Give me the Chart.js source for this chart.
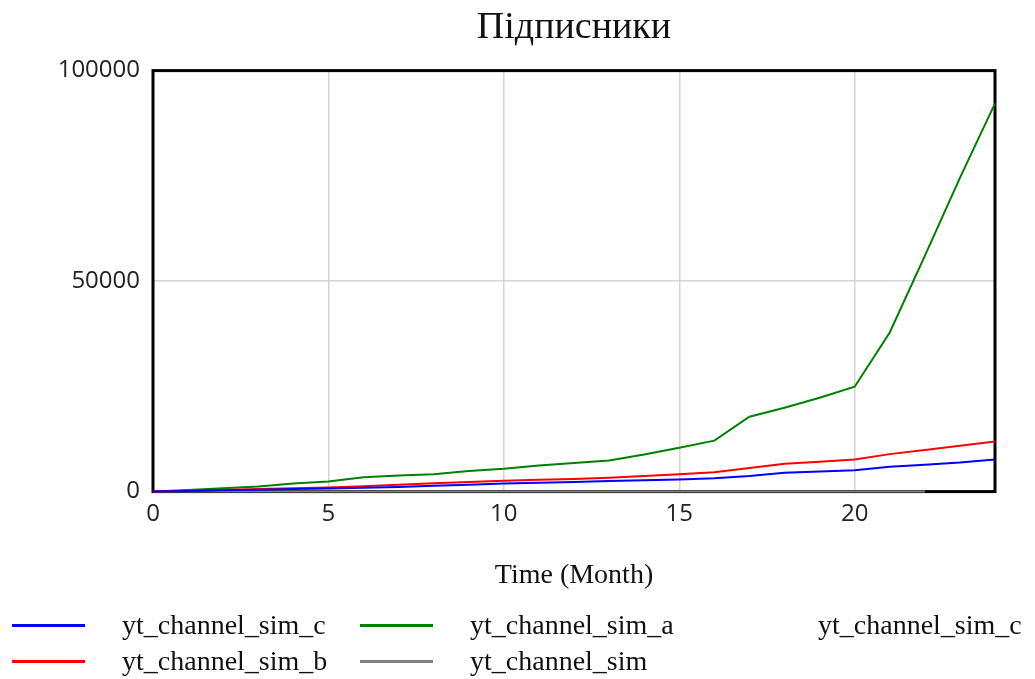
<!DOCTYPE html>
<html>
<head>
<meta charset="utf-8">
<script src="https://cdn.jsdelivr.net/npm/chart.js@4/dist/chart.umd.min.js"></script>
<style>
  body { margin: 0; background: #fff; }
  #wrap { position: relative; width: 1035px; height: 679px; }
  #legend { position: absolute; left: 0; top: 0; width: 1035px; height: 679px; pointer-events: none; }
  .item { position: absolute; height: 36px; display: flex; align-items: center; }
  .swatch { width: 73px; height: 3px; }
  .label { position: absolute; left: 110px; font: 28px "Liberation Serif", serif; color: #111; white-space: nowrap; }
</style>
</head>
<body>
<div id="wrap">
  <canvas id="chart" width="1035" height="679"></canvas>
  <div id="legend"></div>
</div>
<script>
const months = [0, 1, 2, 3, 4, 5, 6, 7, 8, 9, 10, 11, 12, 13, 14, 15, 16, 17, 18, 19, 20, 21, 22, 23, 24]

const simC = [0, 150, 300, 450, 600, 750, 900, 1100, 1400, 1600, 1900, 2100, 2300, 2500, 2700, 2900, 3200, 3700, 4500, 4800, 5100, 5900, 6400, 6900, 7600]
const simB = [0, 200, 400, 600, 800, 1000, 1300, 1600, 2000, 2300, 2600, 2800, 3000, 3300, 3700, 4100, 4600, 5600, 6600, 7100, 7600, 8900, 9900, 10900, 11900]
const simA = [0, 400, 800, 1200, 1900, 2400, 3400, 3800, 4100, 4900, 5400, 6200, 6800, 7400, 8800, 10400, 12100, 17800, 19900, 22300, 24900, 37800, 56000, 74500, 92200]
const sim = [0, 0, 0, 0, 0, 0, 0, 0, 0, 0, 0, 0, 0, 0, 0, 0, 0, 0, 0, 0, 0, 0, 0, null, null]
const simC2 = []

const yTicks = [0, 50000, 100000]
const xTicks = [0, 5, 10, 15, 20]

const series = [
  { label: 'yt_channel_sim_c', values: simC, color: '#0000ff' },
  { label: 'yt_channel_sim_b', values: simB, color: '#ff0000' },
  { label: 'yt_channel_sim_a', values: simA, color: '#008000' },
  { label: 'yt_channel_sim', values: sim, color: '#808080' },
  { label: 'yt_channel_sim_c', values: simC2, color: 'rgba(0,0,0,0)' },
]

const toPoints = (values) => values.map((v, i) => ({ x: months[i], y: v }))

const frame = {
  id: 'frame',
  beforeDatasetsDraw(chart) {
    const { ctx, chartArea: a } = chart
    ctx.save()
    ctx.strokeStyle = '#000'
    ctx.lineWidth = 3
    ctx.strokeRect(a.left, a.top, a.right - a.left, a.bottom - a.top)
    ctx.restore()
  },
}

const sans = '"Open Sans", "Noto Sans", sans-serif'
const serif = '"Liberation Serif", serif'

new Chart(document.getElementById('chart'), {
  type: 'line',
  data: {
    datasets: series.map((s) => ({
      label: s.label,
      data: toPoints(s.values),
      borderColor: s.color,
      backgroundColor: s.color,
      borderWidth: 2,
      pointRadius: 0,
      tension: 0,
      clip: 4,
      spanGaps: false,
    })),
  },
  options: {
    responsive: false,
    animation: false,
    layout: { padding: { left: 0, right: 40, top: 0, bottom: 83 } },
    plugins: {
      legend: { display: false },
      tooltip: { enabled: false },
      title: {
        display: true,
        fullSize: false,
        text: 'Підписники',
        color: '#111',
        font: { family: serif, size: 38, weight: 'normal' },
        padding: { top: 5, bottom: 20 },
      },
    },
    scales: {
      x: {
        type: 'linear',
        min: 0,
        max: 24,
        afterBuildTicks: (axis) => { axis.ticks = xTicks.map((v) => ({ value: v })) },
        ticks: {
          color: '#222',
          font: { family: sans, size: 24 },
          padding: 8,
          maxRotation: 0,
        },
        grid: { color: '#d4d4d4', lineWidth: 1.5, drawTicks: false },
        border: { display: false },
        title: {
          display: true,
          text: 'Time (Month)',
          color: '#111',
          font: { family: serif, size: 28 },
          padding: { top: 22, bottom: 4 },
        },
      },
      y: {
        min: 0,
        max: 100000,
        afterBuildTicks: (axis) => { axis.ticks = yTicks.map((v) => ({ value: v })) },
        afterFit: (axis) => { axis.width = 153 },
        ticks: {
          color: '#222',
          font: { family: sans, size: 24 },
          padding: 13,
          callback: (v) => String(v),
        },
        grid: { color: '#d4d4d4', lineWidth: 1.5, drawTicks: false },
        border: { display: false },
      },
    },
  },
  plugins: [frame],
})

// legend, filled column by column in two rows
const legend = document.getElementById('legend')
series.forEach((s, i) => {
  const col = Math.floor(i / 2)
  const row = i % 2
  const item = document.createElement('div')
  item.className = 'item'
  item.style.left = 12 + col * 348 + 'px'
  item.style.top = 607 + row * 36 + 'px'
  item.innerHTML = '<div class="swatch" style="background:' + s.color + '"></div><span class="label"></span>'
  item.querySelector('.label').textContent = s.label
  legend.appendChild(item)
})
</script>
</body>
</html>
